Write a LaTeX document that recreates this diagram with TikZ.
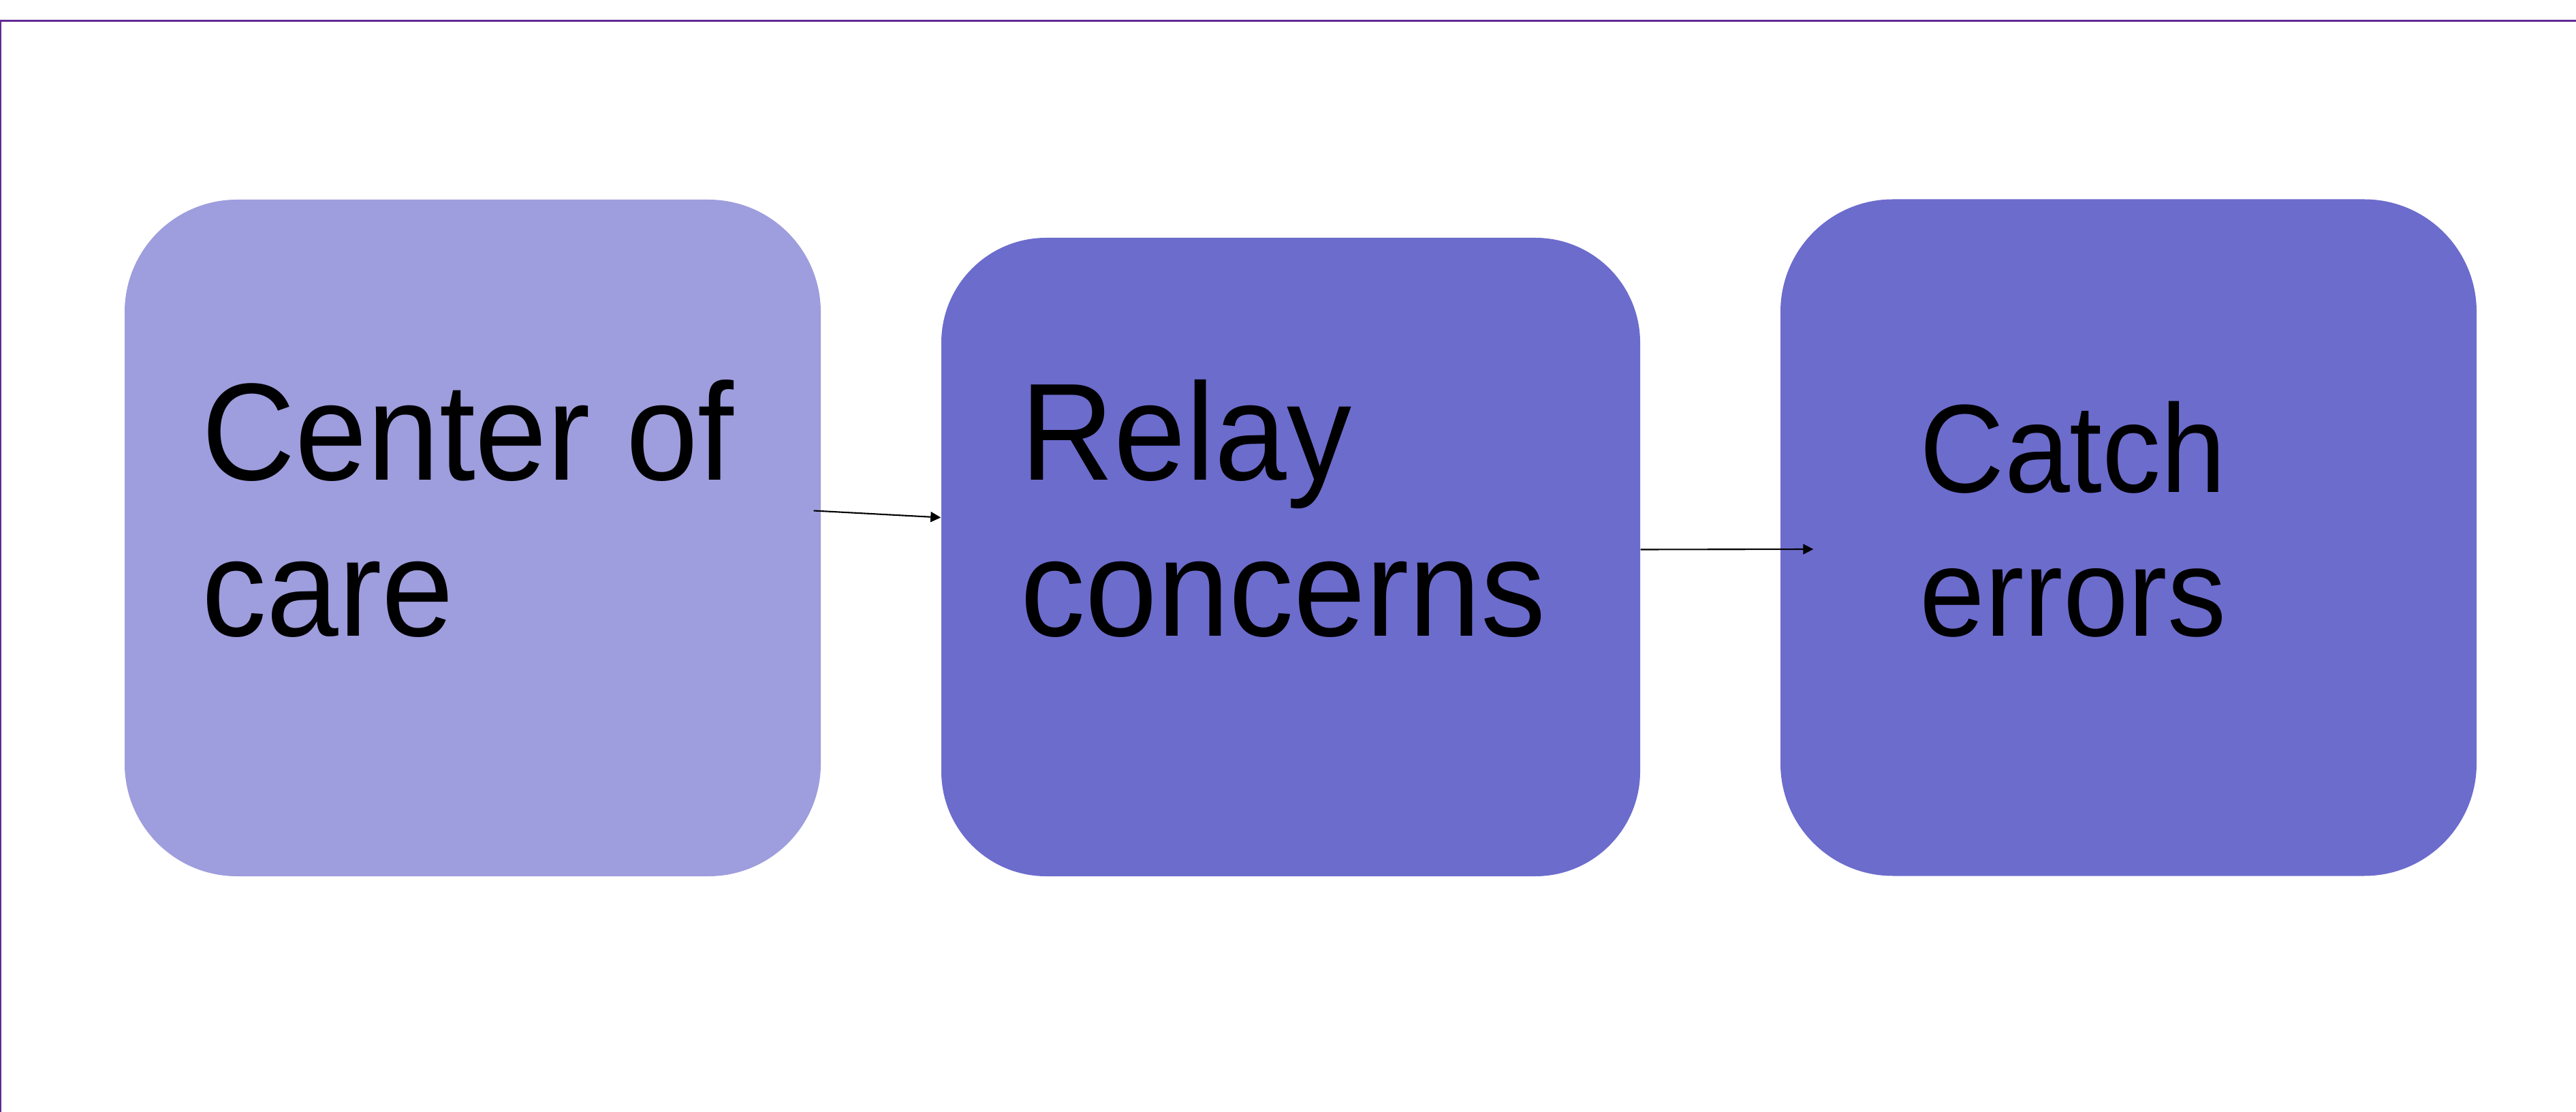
\documentclass[tikz,border=0pt]{standalone}
\usepackage{fontspec}
\setmainfont{Liberation Sans}
\newfontfamily\tallfont[FakeStretch=0.935]{Liberation Sans}
\usepackage{tikz}
\usetikzlibrary{arrows.meta}
\definecolor{softblue}{RGB}{158,157,221}
\definecolor{deepblue}{RGB}{108,108,205}
\definecolor{framepurple}{RGB}{98,42,150}
\tikzstyle{normalnode}=[rectangle,%
                          fill=deepblue,%
                          inner sep     = 0pt,%
                          minimum width = 10.22cm,%
                          minimum height= 9.93cm,%
                          rounded corners=1.65cm]
\tikzstyle{firstnode}=[normalnode, fill=softblue]
\tikzstyle{boxtext}=[anchor=base west, inner sep=0pt, align=left, font=\tallfont\fontsize{57.8}{65.4}\selectfont]
\tikzstyle{smalltext}=[boxtext, font=\tallfont\fontsize{52.4}{60}\selectfont]
\tikzstyle{link}=[-{Triangle[length=0.15cm,width=0.15cm]}, line width=0.6pt]
\begin{document}
\begin{tikzpicture}
            \useasboundingbox (0,0) rectangle (37.82,-16.32);
            \draw[framepurple, line width=0.8pt] (0.01,-16.32) -- (0.01,-0.307) -- (37.82,-0.307);
            \node[firstnode] (a) at (6.94,-7.895) {};
            \node[normalnode, minimum width=10.26cm, minimum height=9.37cm, rounded corners=1.54cm] (b) at (18.95,-8.175) {};
            \node[normalnode] (c) at (31.25,-7.89) {};
            \node[boxtext] (ta) at (2.96,-9.34) {Center of\\care};
            \node[boxtext] (tb) at (14.98,-9.34) {Relay\\concerns};
            \node[smalltext] (tc) at (28.18,-9.33) {Catch\\errors};
            \draw[link] ([shift={(-0.11,0.40)}]a.east) -- ([yshift=0.58cm]b.west);
            \draw[link] ([yshift=0.11cm]b.east) -- ([shift={(0.49,-0.17)}]c.west);
  \end{tikzpicture}
\end{document}
